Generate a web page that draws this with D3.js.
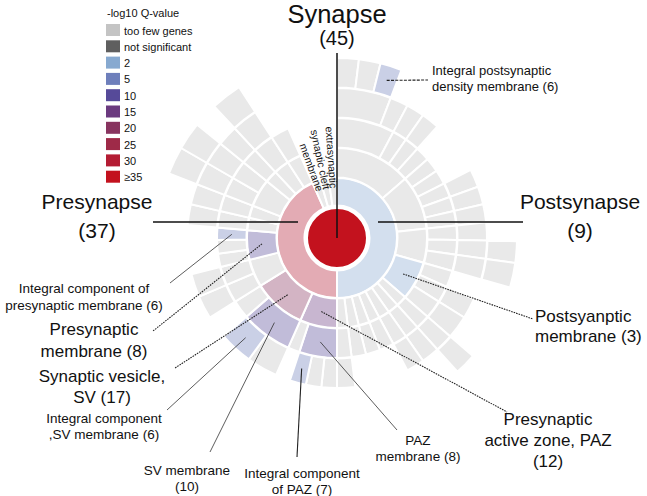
<!DOCTYPE html>
<html>
<head>
<meta charset="utf-8">
<script src="https://cdn.jsdelivr.net/npm/d3@7"></script>
<style>
body { margin: 0; background: #fff; }
svg text { font-family: "Liberation Sans", Arial, Helvetica, sans-serif; fill: #111; }
</style>
</head>
<body>
<div id="chart"></div>
<script>
const FEW = "too few genes";

// legend classes (-log10 Q-value)
const legendLabels = [FEW, "not significant", "2", "5", "10", "15", "20", "25", "30", "\u226535"];
const legendColors = ["#c4c4c4", "#5f5f5f", "#87a9d0", "#6e7fbb", "#564a99", "#6b3a7f", "#88345f", "#9e2a48", "#b41c33", "#c3121e"];

// ontology terms: [term, parent, leaf share of circle (deg), q class]
const synapseTerms = [
    ["Synapse", null, 0, "\u226535"],
    ["Postsynapse", "Synapse", 0, "2"],
    ["Presynapse", "Synapse", 0, "30"],
    ["membrane", "Synapse", 8, FEW],
    ["synaptic cleft", "Synapse", 8, FEW],
    ["extrasynaptic", "Synapse", 8, FEW]
];

const postTerms = [
    ["pa", "Postsynapse", 0, FEW],
    ["pa1", "pa", 0, FEW],
    ["pa1a", "pa1", 0, FEW],
    ["pa1a1", "pa1a", 7, FEW],
    ["pa1a2", "pa1a", 7, FEW],
    ["Integral postsynaptic density membrane", "pa1a", 7, "5"],
    ["pa1b", "pa1", 7, FEW],
    ["pa2", "pa", 0, FEW], ["pa2a", "pa2", 7, FEW],
    ["pa3", "pa", 0, FEW], ["pa3a", "pa3", 7, FEW],
    ["pa4", "pa", 7, FEW],
    ["pb", "Postsynapse", 0, FEW],
    ["pb1", "pb", 7, FEW],
    ["pb2", "pb", 7, FEW],
    ["pb3", "pb", 0, FEW], ["pb3a", "pb3", 7, FEW],
    ["pb4", "pb", 0, FEW], ["pb4a", "pb4", 7, FEW],
    ["pb5", "pb", 0, FEW], ["pb5a", "pb5", 7, FEW],
    ["pc", "Postsynapse", 0, FEW],
    ["pc1", "pc", 0, FEW], ["pc1a", "pc1", 7, FEW],
    ["pc2", "pc", 0, FEW], ["pc2a", "pc2", 0, FEW], ["pc2b", "pc2a", 7, FEW],
    ["pc3", "pc", 0, FEW], ["pc3a", "pc3", 0, FEW], ["pc3b", "pc3a", 8, FEW],
    ["Postsynaptic membrane", "Postsynapse", 0, "2"],
    ["pm1", "Postsynaptic membrane", 8, FEW],
    ["pm2", "Postsynaptic membrane", 0, FEW], ["pm2a", "pm2", 8, FEW],
    ["pm3", "Postsynaptic membrane", 0, FEW], ["pm3a", "pm3", 9, FEW],
    ["pe1", "Postsynapse", 0, FEW], ["pe1a", "pe1", 0, FEW], ["pe1b", "pe1a", 0, FEW], ["pe1c", "pe1b", 7, FEW],
    ["pe2", "Postsynapse", 0, FEW], ["pe2a", "pe2", 0, FEW], ["pe2b", "pe2a", 7, FEW],
    ["pe3", "Postsynapse", 0, FEW], ["pe3a", "pe3", 0, FEW], ["pe3b", "pe3a", 7, FEW],
    ["pe4", "Postsynapse", 0, FEW], ["pe4a", "pe4", 7, FEW],
    ["pe5", "Postsynapse", 0, FEW], ["pe5a", "pe5", 7, FEW],
    ["pe6", "Postsynapse", 0, FEW], ["pe6a", "pe6", 7, FEW],
    ["pe7", "Postsynapse", 0, FEW], ["pe7a", "pe7", 0, FEW], ["pe7b", "pe7a", 7, FEW]
];

const preTerms = [
    ["Presynaptic active zone, PAZ", "Presynapse", 0, "15"],
    ["PAZ membrane", "Presynaptic active zone, PAZ", 0, "10"],
    ["pzm1", "PAZ membrane", 6, FEW],
    ["pzm2", "PAZ membrane", 6, FEW],
    ["Integral component of PAZ", "PAZ membrane", 6.3, "5"],
    ["pzc", "Presynaptic active zone, PAZ", 5.7, FEW],
    ["Synaptic vesicle, SV", "Presynapse", 0, "20"],
    ["SV membrane", "Synaptic vesicle, SV", 0, "10"],
    ["svm1", "SV membrane", 12, FEW],
    ["Integral component, SV membrane", "SV membrane", 13, "5"],
    ["svl", "Synaptic vesicle, SV", 9, FEW],
    ["rb", "Presynapse", 0, FEW],
    ["rb1", "rb", 0, FEW], ["rb1a", "rb1", 9, FEW],
    ["rb2", "rb", 0, FEW], ["rb2a", "rb2", 9, FEW],
    ["Presynaptic membrane", "Presynapse", 0, "10"],
    ["prm1", "Presynaptic membrane", 6.5, FEW],
    ["prm2", "Presynaptic membrane", 6.5, FEW],
    ["Integral component of presynaptic membrane", "Presynaptic membrane", 6, "5"],
    ["pf1", "Presynapse", 0, FEW], ["pf1a", "pf1", 0, FEW], ["pf1b", "pf1a", 8, FEW],
    ["pf2", "Presynapse", 0, FEW], ["pf2a", "pf2", 0, FEW], ["pf2b", "pf2a", 8, FEW],
    ["pf3", "Presynapse", 0, FEW],
    ["pf3a", "pf3", 0, FEW], ["pf3a1", "pf3a", 0, FEW], ["pf3a2", "pf3a1", 9, FEW],
    ["pf3b", "pf3", 0, FEW], ["pf3b1", "pf3b", 0, FEW], ["pf3b2", "pf3b1", 9, FEW],
    ["pf4", "Presynapse", 0, FEW], ["pf4a", "pf4", 0, FEW], ["pf4b", "pf4a", 8, FEW],
    ["pf5", "Presynapse", 0, FEW], ["pf5a", "pf5", 0, FEW], ["pf5b", "pf5a", 0, FEW], ["pf5c", "pf5b", 10, FEW],
    ["pf6", "Presynapse", 0, FEW], ["pf6a", "pf6", 9, FEW]
];

// small ring-1 terms written radially
const radialLabels = ["membrane", "synaptic cleft", "extrasynaptic"];

// callouts: term -> text lines
const callouts = [
    { term: "Integral postsynaptic density membrane", text: ["Integral postsynaptic", "density membrane (6)"], at: [432, 75], anchor: "start", size: 13, lh: 16, lead: [428, 80], dash: "3,1.3" },
    { term: "Postsynaptic membrane", text: ["Postsyanptic", "membrane (3)"], at: [535, 322], anchor: "start", size: 17, lh: 20, lead: [533, 319], dash: "1.6,1" },
    { term: "Presynaptic active zone, PAZ", text: ["Presynaptic", "active zone, PAZ", "(12)"], at: [548, 425], size: 17, lh: 21, lead: [507, 412], dash: "1.6,1" },
    { term: "PAZ membrane", text: ["PAZ", "membrane (8)"], at: [418, 445], size: 13.5, lh: 16, lead: [397, 430], thin: true },
    { term: "Integral component of PAZ", text: ["Integral component", "of PAZ (7)"], at: [302, 478], size: 13.5, lh: 16, lead: [297, 457] },
    { term: "SV membrane", text: ["SV membrane", "(10)"], at: [187, 475], size: 13.5, lh: 16, lead: [210, 452], thin: true },
    { term: "Integral component, SV membrane", text: ["Integral component", ",SV membrane (6)"], at: [104, 423], size: 13.5, lh: 16, lead: [167, 410], thin: true },
    { term: "Synaptic vesicle, SV", text: ["Synaptic vesicle,", "SV (17)"], at: [102, 382], size: 17, lh: 21, lead: [175, 368], dash: "1.6,1" },
    { term: "Presynaptic membrane", text: ["Presynaptic", "membrane (8)"], at: [94, 335], size: 17, lh: 22, lead: [153, 331], dash: "1.6,1" },
    { term: "Integral component of presynaptic membrane", text: ["Integral component of", "presynaptic membrane (6)"], at: [84, 293], size: 13.5, lh: 17, lead: [170, 283], thin: true }
];

const WIDTH = 647, HEIGHT = 496;
const CX = 337, CY = 238;

const svg = d3.select("#chart").append("svg")
    .attr("width", WIDTH)
    .attr("height", HEIGHT);

// ---------------------------//
//          HIERARCHY         //
// ---------------------------//
const rows = [].concat(synapseTerms, postTerms, preTerms);
const root = d3.stratify()
    .id(d => d[0])
    .parentId(d => d[1])(rows)
    .sum(d => d[2]);

d3.partition().size([2 * Math.PI, root.height + 1])(root);

const rScale = d3.scaleLinear().domain([0, root.height + 1]).range([0, 180]);
const color = d3.scaleOrdinal().domain(legendLabels).range(legendColors);

const arc = d3.arc()
    .startAngle(d => d.x0)
    .endAngle(d => d.x1)
    .innerRadius(d => d.depth === 0 ? 0 : rScale(d.y0) + (d.depth === 1 ? 2.5 : 0.5))
    .outerRadius(d => rScale(d.y1));

const burst = svg.append("g").attr("transform", `translate(${CX},${CY})`);

burst.selectAll("path")
    .data(root.descendants())
    .join("path")
    .attr("d", arc)
    .attr("fill", d => color(d.data[3]))
    .attr("fill-opacity", d => d.depth === 0 ? 1 : 0.37)
    .attr("stroke", "#fff")
    .attr("stroke-width", 2);

// radial labels for the thin ring-1 terms
burst.selectAll(".rlab")
    .data(root.children.filter(d => radialLabels.includes(d.id)))
    .join("text")
    .attr("class", "rlab")
    .attr("transform", d => {
        const a = (d.x0 + d.x1) / 2;
        const deg = a * 180 / Math.PI;
        const rr = 50;
        return `translate(${rr * Math.sin(a)},${-rr * Math.cos(a)}) rotate(${deg + 90})`;
    })
    .attr("text-anchor", "end")
    .attr("dy", "0.35em")
    .style("font-size", "10.5px")
    .text(d => d.id);

// ---------------------------//
//       MAIN LABEL LINES     //
// ---------------------------//
const lines = svg.append("g");
lines.append("line")
    .attr("x1", CX).attr("y1", CY).attr("x2", CX).attr("y2", 53)
    .attr("stroke", "#111").attr("stroke-width", 1.5);
lines.append("line")
    .attr("x1", 298).attr("y1", 222).attr("x2", 153).attr("y2", 222)
    .attr("stroke", "#111").attr("stroke-width", 1.5);
lines.append("line")
    .attr("x1", 378).attr("y1", 222).attr("x2", 523).attr("y2", 222)
    .attr("stroke", "#111").attr("stroke-width", 1.5);

function bigLabel(x, y, l1, l2, s1, s2, gap) {
    svg.append("text").attr("x", x).attr("y", y).attr("text-anchor", "middle")
        .style("font-size", s1 + "px").text(l1);
    svg.append("text").attr("x", x).attr("y", y + gap).attr("text-anchor", "middle")
        .style("font-size", s2 + "px").text(l2);
}
bigLabel(CX, 23, "Synapse", "(45)", 25.5, 20, 22);
bigLabel(97, 209, "Presynapse", "(37)", 21, 21, 29);
bigLabel(580, 209, "Postsynapse", "(9)", 21, 21, 29);

// ---------------------------//
//          CALLOUTS          //
// ---------------------------//
const byId = new Map(root.descendants().map(d => [d.id, d]));

callouts.forEach(c => {
    const node = byId.get(c.term);
    const [sx, sy] = arc.centroid(node);
    svg.append("line")
        .attr("x1", CX + sx).attr("y1", CY + sy)
        .attr("x2", c.lead[0]).attr("y2", c.lead[1])
        .attr("stroke", c.thin ? "#333" : "#222")
        .attr("stroke-width", c.thin ? 0.8 : 1.1)
        .attr("stroke-dasharray", c.dash || null);

    const t = svg.append("text")
        .attr("text-anchor", c.anchor || "middle")
        .style("font-size", c.size + "px");
    c.text.forEach((s, i) => {
        t.append("tspan").attr("x", c.at[0]).attr("y", c.at[1] + i * c.lh).text(s);
    });
});

// ---------------------------//
//           LEGEND           //
// ---------------------------//
const legend = svg.append("g").attr("transform", "translate(106,0)");
legend.append("text").attr("x", 1).attr("y", 17).style("font-size", "11px").text("-log10 Q-value");

const items = legend.selectAll(".item")
    .data(legendLabels)
    .join("g")
    .attr("class", "item")
    .attr("transform", (d, i) => `translate(0,${24 + i * 16.3})`);
items.append("rect")
    .attr("width", 14).attr("height", 12)
    .attr("fill", d => color(d));
items.append("text")
    .attr("x", 18).attr("y", 10.5)
    .style("font-size", "11px")
    .text(d => d);
</script>
</body>
</html>
